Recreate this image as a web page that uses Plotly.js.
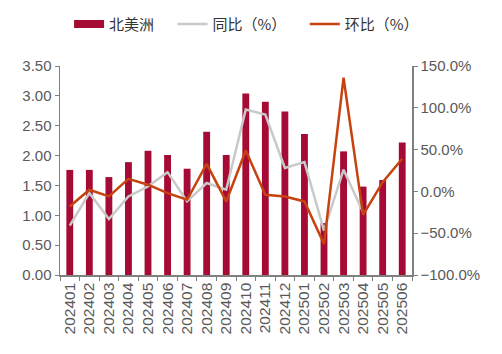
<!DOCTYPE html>
<html><head><meta charset="utf-8">
<script src="https://cdn.plot.ly/plotly-3.0.1.min.js"></script>
<style>html,body{margin:0;padding:0;background:#fff}#c{width:502px;height:354px}</style>
</head><body><div id="c"></div>
<script>
const months = ["202401","202402","202403","202404","202405","202406","202407","202408","202409","202410","202411","202412","202501","202502","202503","202504","202505","202506"];
const northAmerica = [1.76,1.76,1.64,1.89,2.08,2.01,1.78,2.40,2.01,3.04,2.90,2.74,2.36,0.87,2.07,1.48,1.59,2.22];
const yoy = [-41,-2,-33,-6,6,23,-12,10,2,98,92,28,35,-47,26,-25,null,null];
const mom = [-18,2,-6,15,8,-2,-10,33,-12,49,-4,-6,-12,-63,136,-28,11,39];

const font = "'Liberation Sans', Arial, 'Noto Sans CJK SC', sans-serif";
const barColor = "#A50B34";
const pad = "\u00A0\u00A0\u00A0\u00A0";
const data = [
  {type:"bar", x:months, y:northAmerica, name:"北美洲", marker:{color:barColor}, yaxis:"y", showlegend:false},
  {type:"scatter", mode:"lines", x:[null], y:[null], name:"北美洲" + pad, line:{color:barColor, width:8}, yaxis:"y", legendrank:1},
  {type:"scatter", mode:"lines", x:months, y:yoy, name:"同比（%）" + pad, line:{color:"#C9C9C9", width:2.5}, yaxis:"y2", legendrank:2},
  {type:"scatter", mode:"lines", x:months, y:mom, name:"环比（%）", line:{color:"#C6420F", width:2.5}, yaxis:"y2", legendrank:3}
];
const layout = {
  width:502, height:354,
  margin:{l:60, r:90, t:66, b:79},
  paper_bgcolor:"#fff", plot_bgcolor:"#fff",
  font:{family:font, size:14, color:"#595959"},
  bargap:0.65,
  showlegend:true,
  legend:{orientation:"h", x:0.53, xanchor:"center", y:0.885, yanchor:"bottom", yref:"container", xref:"paper",
    font:{family:"'Noto Sans CJK SC', sans-serif", size:15, color:"#333"}, traceorder:"normal"},
  xaxis:{type:"category", showline:true, linecolor:"#808080", linewidth:1.5, ticks:"outside", tickson:"boundaries",
    ticklen:4, tickcolor:"#808080", tickangle:-90, tickfont:{size:15.5, color:"#595959"}, showgrid:false, zeroline:false},
  yaxis:{range:[0,3.5], dtick:0.5, tickformat:".2f", showline:true, linecolor:"#808080", linewidth:1.5,
    ticks:"outside", ticklen:4, tickcolor:"#808080", showgrid:false, zeroline:false, tickfont:{size:15, color:"#595959"}},
  yaxis2:{overlaying:"y", side:"right", range:[-100,150], dtick:50, ticksuffix:"%", tickformat:".1f",
    showline:true, linecolor:"#808080", linewidth:1.5, ticks:"outside", ticklen:4, tickcolor:"#808080",
    showgrid:false, zeroline:false, tickfont:{size:15, color:"#595959"}}
};
Plotly.newPlot("c", data, layout, {displayModeBar:false, staticPlot:true});
</script></body></html>
